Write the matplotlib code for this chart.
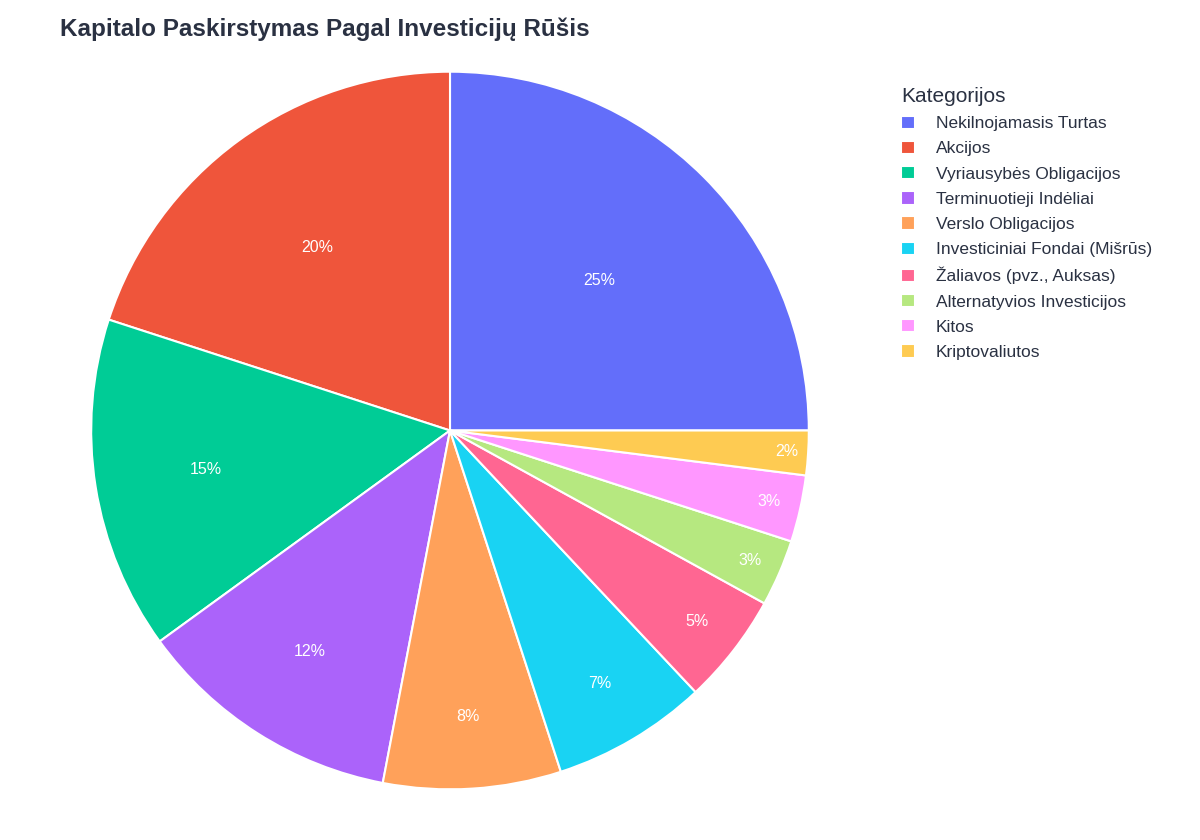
import matplotlib
matplotlib.use("Agg")
import matplotlib.pyplot as plt
import numpy as np

plt.rcParams["font.family"] = "Liberation Sans"

categories = ["Nekilnojamasis Turtas", "Akcijos", "Vyriausybės Obligacijos",
              "Terminuotieji Indėliai", "Verslo Obligacijos",
              "Investiciniai Fondai (Mišrūs)", "Žaliavos (pvz., Auksas)",
              "Alternatyvios Investicijos", "Kitos", "Kriptovaliutos"]
values = [25, 20, 15, 12, 8, 7, 5, 3, 3, 2]
colors = ["#636efa", "#ef553b", "#00cc96", "#ab63fa", "#ffa15a",
          "#19d3f3", "#ff6692", "#b6e880", "#ff97ff", "#fecb52"]
# radial position of percentage labels (plotly pushes small slices outward)
label_r = [0.59, 0.63, 0.69, 0.73, 0.80, 0.82, 0.87, 0.91, 0.91, 0.94]

fig = plt.figure(figsize=(12, 8.4), dpi=100)
ax = fig.add_axes([0.076, 0.060, 0.598, 0.855])
wedges, _ = ax.pie(values, colors=colors, startangle=0, counterclock=True,
                   wedgeprops=dict(edgecolor="white", linewidth=1.5))
ax.set_aspect("equal")
ax.set_xlim(-1.0, 1.0)
ax.set_ylim(-1.0, 1.0)

total = sum(values)
for w, v, r in zip(wedges, values, label_r):
    ang = np.deg2rad((w.theta1 + w.theta2) / 2)
    ax.text(r * np.cos(ang), r * np.sin(ang), f"{v / total * 100:.0f}%",
            ha="center", va="center", color="white", fontsize=11.5)

fig.text(0.05, 0.965, "Kapitalo Paskirstymas Pagal Investicijų Rūšis",
         fontsize=17.5, fontweight="bold", color="#2a3142", va="center")

leg = fig.legend(wedges, categories, title="Kategorijos", loc="upper left",
                 bbox_to_anchor=(0.738, 0.915), frameon=False, fontsize=12.5,
                 title_fontsize=15, handlelength=0.8, handleheight=0.8,
                 labelspacing=0.55, handletextpad=1.2)
leg._legend_box.align = "left"
for t in leg.get_texts():
    t.set_color("#2a3142")
leg.get_title().set_color("#2a3142")

fig.savefig("out.png", dpi=100, facecolor="white")
